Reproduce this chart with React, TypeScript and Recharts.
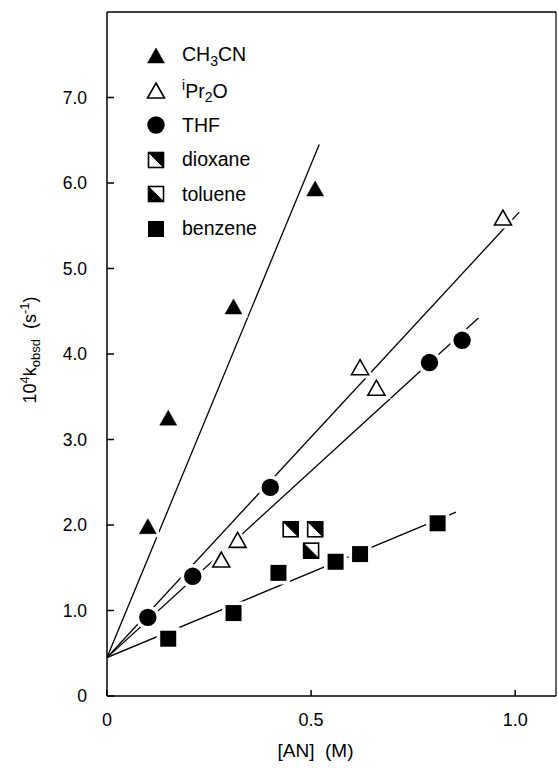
import React from 'react';
import { ComposedChart, Line, Scatter, XAxis, YAxis, Legend, Label, ReferenceLine } from 'recharts';

// measured points, [AN] (M) vs 10^4 k_obsd (s^-1)
const ch3cn = [
    { x: 0.1, y: 1.98 },
    { x: 0.15, y: 3.25 },
    { x: 0.31, y: 4.55 },
    { x: 0.51, y: 5.93 },
];
const ipr2o = [
    { x: 0.28, y: 1.59 },
    { x: 0.32, y: 1.82 },
    { x: 0.62, y: 3.84 },
    { x: 0.66, y: 3.6 },
    { x: 0.97, y: 5.59 },
];
const thf = [
    { x: 0.1, y: 0.92 },
    { x: 0.21, y: 1.4 },
    { x: 0.4, y: 2.44 },
    { x: 0.79, y: 3.9 },
    { x: 0.87, y: 4.16 },
];
const dioxane = [
    { x: 0.45, y: 1.95 },
    { x: 0.51, y: 1.95 },
];
const toluene = [{ x: 0.5, y: 1.7 }];
const benzene = [
    { x: 0.15, y: 0.67 },
    { x: 0.31, y: 0.97 },
    { x: 0.42, y: 1.44 },
    { x: 0.56, y: 1.57 },
    { x: 0.62, y: 1.66 },
    { x: 0.81, y: 2.02 },
];

// fitted lines (end points)
const fitCh3cn = [
    { x: 0, y: 0.45 },
    { x: 0.52, y: 6.45 },
];
const fitIpr2o = [
    { x: 0, y: 0.45 },
    { x: 1.01, y: 5.66 },
];
const fitThf = [
    { x: 0, y: 0.45 },
    { x: 0.91, y: 4.42 },
];
const fitBenzene = [
    { x: 0, y: 0.45 },
    { x: 0.855, y: 2.15 },
];

const xTicks = [0, 0.5, 1.0];
const yTicks = [0, 1, 2, 3, 4, 5, 6, 7];
const X_MAX = 1.1;
const Y_MAX = 8;

const FONT = '"Liberation Sans", Arial, Helvetica, sans-serif';

type Kind = 'triFilled' | 'triOpen' | 'circle' | 'dioxane' | 'toluene' | 'square';

// one marker, with a white halo so the fit lines break around it
function Marker({ kind, cx, cy, halo = true }: { kind: Kind; cx: number; cy: number; halo?: boolean }) {
    const tri = `M${cx},${cy - 8}L${cx + 8.5},${cy + 7}L${cx - 8.5},${cy + 7}Z`;
    const s = 8;
    const sq = `M${cx - s},${cy - s}H${cx + s}V${cy + s}H${cx - s}Z`;
    const haloProps = { fill: '#fff', stroke: '#fff', strokeWidth: 7 };
    if (kind === 'triFilled' || kind === 'triOpen') {
        return (
            <g>
                {halo && <path d={tri} {...haloProps} />}
                <path
                    d={tri}
                    fill={kind === 'triFilled' ? '#000' : '#fff'}
                    stroke="#000"
                    strokeWidth={kind === 'triFilled' ? 0.5 : 1.6}
                    strokeLinejoin="miter"
                />
            </g>
        );
    }
    if (kind === 'circle') {
        return (
            <g>
                {halo && <circle cx={cx} cy={cy} r={8.7} {...haloProps} />}
                <circle cx={cx} cy={cy} r={8.7} fill="#000" />
            </g>
        );
    }
    if (kind === 'square') {
        return (
            <g>
                {halo && <path d={sq} {...haloProps} />}
                <path d={sq} fill="#000" />
            </g>
        );
    }
    const h = 7.5;
    // black half: upper-right for dioxane, lower-left for toluene
    const half =
        kind === 'dioxane'
            ? `M${cx - h},${cy - h}H${cx + h}V${cy + h}Z`
            : `M${cx - h},${cy - h}V${cy + h}H${cx + h}Z`;
    return (
        <g>
            {halo && <rect x={cx - h} y={cy - h} width={2 * h} height={2 * h} {...haloProps} />}
            <rect x={cx - h} y={cy - h} width={2 * h} height={2 * h} fill="#fff" stroke="#000" strokeWidth={1.6} />
            <path d={half} fill="#000" stroke="#000" strokeWidth={1} />
        </g>
    );
}

const shapeOf = (kind: Kind) => (props: any) => <Marker kind={kind} cx={props.cx} cy={props.cy} />;

const legendRows: { kind: Kind; label: React.ReactNode }[] = [
    { kind: 'triFilled', label: <>CH<sub style={{ fontSize: '0.72em' }}>3</sub>CN</> },
    { kind: 'triOpen', label: <><sup style={{ fontSize: '0.72em' }}>i</sup>Pr<sub style={{ fontSize: '0.72em' }}>2</sub>O</> },
    { kind: 'circle', label: 'THF' },
    { kind: 'dioxane', label: 'dioxane' },
    { kind: 'toluene', label: 'toluene' },
    { kind: 'square', label: 'benzene' },
];

function LegendBox() {
    return (
        <div style={{ fontFamily: FONT, fontSize: 19.5, color: '#000' }}>
            {legendRows.map((r, i) => (
                <div key={i} style={{ display: 'flex', alignItems: 'center', height: 34.5 }}>
                    <svg width={20} height={20} style={{ display: 'block' }}>
                        <Marker kind={r.kind} cx={10} cy={10} halo={false} />
                    </svg>
                    <span style={{ marginLeft: 16, lineHeight: 1 }}>{r.label}</span>
                </div>
            ))}
        </div>
    );
}

function YTitle({ viewBox }: any) {
    const cx = viewBox.x + 30;
    const cy = 350;
    return (
        <text
            x={cx}
            y={cy}
            transform={`rotate(-90, ${cx}, ${cy})`}
            textAnchor="middle"
            dominantBaseline="central"
            fontFamily={FONT}
            fontSize={18}
            fill="#000"
        >
            <tspan>10</tspan>
            <tspan fontSize={13} dy={-6}>4</tspan>
            <tspan dy={6}>k</tspan>
            <tspan fontSize={13} dy={5}>obsd</tspan>
            <tspan dy={-5}>{'\u00a0\u00a0(s'}</tspan>
            <tspan fontSize={13} dy={-6}>-1</tspan>
            <tspan dy={6}>)</tspan>
        </text>
    );
}

function XTitle({ viewBox }: any) {
    const cx = viewBox.x + viewBox.width / 2 - 16;
    return (
        <text x={cx} y={757} textAnchor="middle" fontFamily={FONT} fontSize={19} fill="#000">
            {'[AN]\u00a0\u00a0(M)'}
        </text>
    );
}

export default function App() {
    return (
        <div style={{ position: 'absolute', left: 0, top: 0, background: '#fff' }}>
            <ComposedChart width={558} height={769} margin={{ top: 12, right: 2, bottom: 13, left: 0 }}>
                <XAxis
                    dataKey="x"
                    type="number"
                    domain={[0, X_MAX]}
                    ticks={xTicks}
                    tickFormatter={(v) => (v === 0 ? '0' : v.toFixed(1))}
                    height={60}
                    tickSize={-6}
                    tickMargin={23}
                    stroke="#000"
                    strokeWidth={1.5}
                    tick={{ fill: '#000', fontSize: 18, fontFamily: FONT }}
                    allowDataOverflow
                >
                    <Label content={<XTitle />} />
                </XAxis>
                <YAxis
                    dataKey="y"
                    type="number"
                    domain={[0, Y_MAX]}
                    ticks={yTicks}
                    tickFormatter={(v) => (v === 0 ? '0' : v.toFixed(1))}
                    width={107}
                    tickSize={-7}
                    tickMargin={27}
                    stroke="#000"
                    strokeWidth={1.5}
                    tick={{ fill: '#000', fontSize: 17.5, fontFamily: FONT }}
                    allowDataOverflow
                >
                    <Label content={<YTitle />} />
                </YAxis>

                {/* frame: top and right edges */}
                <ReferenceLine y={Y_MAX} stroke="#000" strokeWidth={1.5} ifOverflow="visible" />
                <ReferenceLine x={X_MAX} stroke="#000" strokeWidth={1.2} ifOverflow="visible" />

                <Line data={fitCh3cn} dataKey="y" stroke="#000" strokeWidth={1.3} dot={false} isAnimationActive={false} legendType="none" />
                <Line data={fitIpr2o} dataKey="y" stroke="#000" strokeWidth={1.3} dot={false} isAnimationActive={false} legendType="none" />
                <Line data={fitThf} dataKey="y" stroke="#000" strokeWidth={1.3} dot={false} isAnimationActive={false} legendType="none" />
                <Line data={fitBenzene} dataKey="y" stroke="#000" strokeWidth={1.3} dot={false} isAnimationActive={false} legendType="none" />

                <Scatter data={ch3cn} shape={shapeOf('triFilled')} isAnimationActive={false} />
                <Scatter data={ipr2o} shape={shapeOf('triOpen')} isAnimationActive={false} />
                <Scatter data={thf} shape={shapeOf('circle')} isAnimationActive={false} />
                <Scatter data={dioxane} shape={shapeOf('dioxane')} isAnimationActive={false} />
                <Scatter data={toluene} shape={shapeOf('toluene')} isAnimationActive={false} />
                <Scatter data={benzene} shape={shapeOf('square')} isAnimationActive={false} />

                <Legend
                    layout="vertical"
                    align="center"
                    verticalAlign="middle"
                    content={() => <LegendBox />}
                    wrapperStyle={{ left: 146, top: 39, width: 'auto', height: 'auto' }}
                />
            </ComposedChart>
        </div>
    );
}
